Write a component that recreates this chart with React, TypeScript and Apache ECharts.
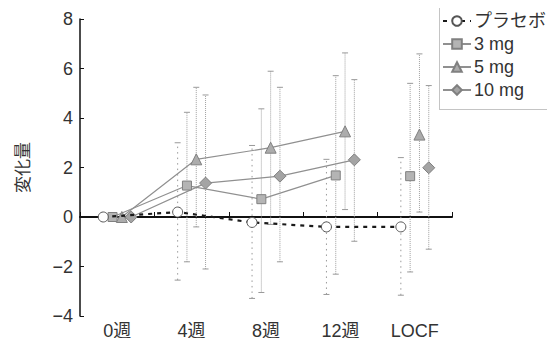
import React, { useEffect, useRef } from "react";
import * as echarts from "echarts";

const categories = ["0週", "4週", "8週", "12週", "LOCF"];
const seriesNames = ["プラセボ", "3 mg", "5 mg", "10 mg"];
const yTicks = { min: -4, max: 8, interval: 2 };

const placeboMean = [0, 0.2, -0.22, -0.4, -0.4];
const placeboLow = [null, -2.55, -3.29, -3.13, -3.16];
const placeboHigh = [null, 3.0, 2.89, 2.33, 2.4];

const mg3Mean = [0, 1.27, 0.72, 1.68, 1.65];
const mg3Low = [null, -1.81, -3.05, -2.31, -2.22];
const mg3High = [null, 4.23, 4.37, 5.71, 5.4];

const mg5Mean = [0, 2.33, 2.8, 3.46, 3.33];
const mg5Low = [null, -0.4, -0.3, 0.3, 0.2];
const mg5High = [null, 5.24, 5.89, 6.63, 6.59];

const mg10Mean = [0, 1.37, 1.65, 2.31, 1.99];
const mg10Low = [null, -2.1, -1.81, -0.98, -1.3];
const mg10High = [null, 4.93, 5.24, 5.55, 5.31];

const FONT = "'Liberation Sans', 'Noto Sans CJK JP', sans-serif";

export default function App() {
  const ref = useRef<HTMLDivElement>(null);
  useEffect(() => {
    if (!ref.current) return;
    const chart = echarts.init(ref.current, null, { renderer: "svg" });

    const offsets = [-0.1875, -0.0625, 0.0625, 0.1875];
    const means = [placeboMean, mg3Mean, mg5Mean, mg10Mean];
    const lows = [placeboLow, mg3Low, mg5Low, mg10Low];
    const highs = [placeboHigh, mg3High, mg5High, mg10High];
    const xs = (s: number, i: number) => i + 0.5 + offsets[s];

    const symbols = ["circle", "rect", "triangle", "diamond"];
    const symbolSizes = [10, 9, 11, 12];
    const fills = ["#ffffff", "#b4b4b4", "#acacac", "#a4a4a4"];
    const borders = ["#555", "#808080", "#808080", "#808080"];

    const series: any[] = [];

    // error bars
    means.forEach((m, s) => {
      const data: any[] = [];
      m.forEach((_, i) => {
        if (lows[s][i] != null && highs[s][i] != null) {
          data.push([xs(s, i), lows[s][i], highs[s][i]]);
        }
      });
      series.push({
        type: "custom",
        xAxisIndex: 1,
        yAxisIndex: 0,
        silent: true,
        z: 1,
        data,
        encode: { x: 0, y: [1, 2] },
        renderItem: (params: any, api: any) => {
          const x = api.value(0);
          const lo = api.coord([x, api.value(1)]);
          const hi = api.coord([x, api.value(2)]);
          const style = {
            stroke: s === 0 ? "#999" : "#a0a0a0",
            lineWidth: 1,
            lineDash: s === 0 ? [1.5, 4] : [1, 1],
          };
          const capStyle = { stroke: "#999", lineWidth: 1 };
          const w = 3;
          return {
            type: "group",
            children: [
              { type: "line", shape: { x1: lo[0], y1: lo[1], x2: hi[0], y2: hi[1] }, style },
              { type: "line", shape: { x1: hi[0] - w, y1: hi[1], x2: hi[0] + w, y2: hi[1] }, style: capStyle },
              { type: "line", shape: { x1: lo[0] - w, y1: lo[1], x2: lo[0] + w, y2: lo[1] }, style: capStyle },
            ],
          };
        },
      });
    });

    // lines
    means.forEach((m, s) => {
      const isPlacebo = s === 0;
      const lineStyle = isPlacebo
        ? { color: "#1a1a1a", width: 2.2, type: [4, 5] }
        : { color: "#909090", width: 1.2, type: "solid" };
      const base = {
        type: "line",
        name: seriesNames[s],
        xAxisIndex: 1,
        yAxisIndex: 0,
        symbol: symbols[s],
        symbolSize: symbolSizes[s],
        showSymbol: true,
        itemStyle: { color: fills[s], borderColor: borders[s], borderWidth: 1 },
        lineStyle,
        color: fills[s],
        z: isPlacebo ? 4 : 3,
      };
      const upto = isPlacebo ? m.length : m.length - 1;
      series.push({
        ...base,
        data: m.slice(0, upto).map((v, i) => [xs(s, i), v]),
      });
      if (!isPlacebo) {
        series.push({
          ...base,
          data: [[xs(s, m.length - 1), m[m.length - 1]]],
        });
      }
    });

    chart.setOption({
      animation: false,
      backgroundColor: "#ffffff",
      textStyle: { fontFamily: FONT },
      grid: { left: 80, right: 103, top: 19, bottom: 30, containLabel: false },
      legend: {
        orient: "vertical",
        left: 442,
        top: 12,
        padding: 0,
        itemGap: 5,
        itemWidth: 28,
        itemHeight: 12,
        data: seriesNames,
        textStyle: { fontSize: 18, color: "#333", fontFamily: FONT, padding: [0, 0, 0, -2] },
      },
      xAxis: [
        {
          type: "category",
          data: categories,
          boundaryGap: true,
          position: "bottom",
          axisLine: { show: false, onZero: false },
          axisTick: { show: false },
          axisLabel: { fontSize: 18, color: "#333", margin: 6, fontFamily: FONT },
          splitLine: { show: false },
        },
        {
          type: "value",
          min: 0,
          max: 5,
          interval: 1,
          position: "bottom",
          axisLine: { show: true, onZero: true, lineStyle: { color: "#111", width: 2 } },
          axisTick: { show: true, inside: true, length: 5, lineStyle: { color: "#111", width: 1 } },
          axisLabel: { show: false },
          splitLine: { show: false },
        },
      ],
      yAxis: {
        type: "value",
        min: yTicks.min,
        max: yTicks.max,
        interval: yTicks.interval,
        name: "変化量",
        nameLocation: "middle",
        nameRotate: 90,
        nameGap: 48,
        nameTextStyle: { fontSize: 17, color: "#333", fontFamily: FONT },
        axisLine: { show: true, lineStyle: { color: "#111", width: 1.5 } },
        axisTick: { show: true, inside: true, length: 4, lineStyle: { color: "#111" } },
        axisLabel: {
          fontSize: 18,
          color: "#333",
          margin: 7,
          fontFamily: FONT,
          formatter: (v: number) => String(v).replace("-", "\u2212"),
        },
        splitLine: { show: false },
      },
      graphic: [
        {
          type: "rect",
          shape: { x: 439.5, y: 5.5, width: 114, height: 104 },
          style: { fill: "none", stroke: "#888", lineWidth: 1, lineDash: [1, 1] },
          silent: true,
          z: 0,
        },
      ],
      series,
    });

    return () => chart.dispose();
  }, []);

  return <div ref={ref} style={{ width: 555, height: 346, margin: -8 }} />;
}
